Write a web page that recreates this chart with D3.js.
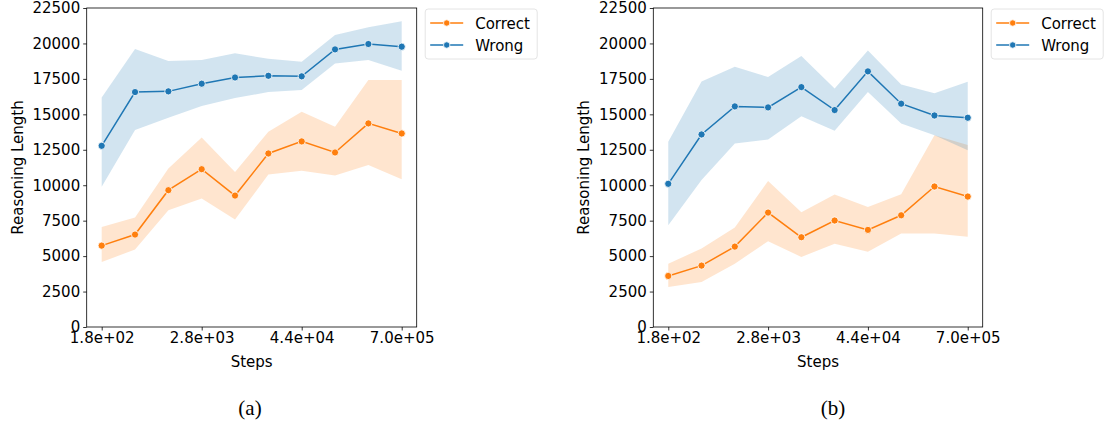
<!DOCTYPE html>
<html>
<head>
<meta charset="utf-8">
<script src="https://cdn.jsdelivr.net/npm/d3@7"></script>
<style>
  body { margin: 0; background: #fff; }
  svg { display: block; font-family: "DejaVu Sans", sans-serif; }
</style>
</head>
<body>
<svg id="chart" width="1107" height="425"></svg>
<script>
// x categories (log-spaced training steps) and ticks that are labelled
var steps = ["1.8e+02", "s1", "s2", "2.8e+03", "s4", "s5", "4.4e+04", "s7", "s8", "7.0e+05"];
var tickSteps = ["1.8e+02", "2.8e+03", "4.4e+04", "7.0e+05"];
var yTicks = [0, 2500, 5000, 7500, 10000, 12500, 15000, 17500, 20000, 22500];

// panel (a)
var aCorrect    = [5740, 6520, 9650, 11130, 9270, 12240, 13090, 12310, 14360, 13650];
var aCorrectLo  = [4590, 5460, 8240, 9060, 7580, 10760, 11020, 10690, 11420, 10430];
var aCorrectHi  = [7060, 7720, 11180, 13370, 10940, 13770, 15180, 14120, 17420, 17420];
var aWrong      = [12780, 16570, 16620, 17160, 17600, 17720, 17680, 19580, 19960, 19770];
var aWrongLo    = [9890, 13890, 14760, 15580, 16150, 16570, 16710, 18590, 18830, 18080];
var aWrongHi    = [16190, 19610, 18760, 18830, 19300, 18920, 18710, 20590, 21140, 21560];

// panel (b)
var bCorrect    = [3600, 4330, 5670, 8070, 6330, 7510, 6850, 7880, 9910, 9200];
var bCorrectLo  = [2820, 3180, 4470, 6050, 4940, 5880, 5300, 6590, 6590, 6360];
var bCorrectHi  = [4470, 5530, 7010, 10290, 8100, 9340, 8470, 9370, 13530, 12830];
var bWrong      = [10100, 13580, 15560, 15490, 16920, 15300, 18030, 15750, 14920, 14760];
var bWrongLo    = [7180, 10360, 12940, 13230, 14870, 13840, 16570, 14360, 13530, 12470];
var bWrongHi    = [13060, 17320, 18360, 17630, 19110, 16830, 19510, 17110, 16480, 17300];

var seriesNames = ["Correct", "Wrong"];
var colors = { Correct: "#ff7f0e", Wrong: "#1f77b4" };
var fs = 15;

var svg = d3.select("#chart");

function drawPanel(left, right, data, caption, capX) {
  var top = 8, bottom = 327;
  var g = svg.append("g");

  var x = d3.scalePoint().domain(steps).range([left, right]).padding(0.45);
  var y = d3.scaleLinear().domain([0, 22500]).range([bottom, top]);

  // bands
  data.forEach(function(s) {
    var rows = s.mean.map(function(v, i) { return { k: steps[i], lo: s.lo[i], hi: s.hi[i], v: v }; });
    g.append("path")
      .datum(rows)
      .attr("fill", colors[s.name])
      .attr("fill-opacity", 0.2)
      .attr("d", d3.area().x(function(d) { return x(d.k); }).y0(function(d) { return y(d.lo); }).y1(function(d) { return y(d.hi); }));
  });
  data.forEach(function(s) {
    var rows = s.mean.map(function(v, i) { return { k: steps[i], v: v }; });
    g.append("path")
      .datum(rows)
      .attr("fill", "none")
      .attr("stroke", colors[s.name])
      .attr("stroke-width", 1.5)
      .attr("d", d3.line().x(function(d) { return x(d.k); }).y(function(d) { return y(d.v); }));
    g.selectAll(null).data(rows).enter().append("circle")
      .attr("cx", function(d) { return x(d.k); })
      .attr("cy", function(d) { return y(d.v); })
      .attr("r", 3.6)
      .attr("fill", colors[s.name])
      .attr("stroke", "#fff")
      .attr("stroke-width", 0.8);
  });

  // axes
  var xAxis = d3.axisBottom(x).tickValues(tickSteps).tickSize(3.5).tickPadding(2);
  var yAxis = d3.axisLeft(y).tickValues(yTicks).tickSize(3.5).tickPadding(3).tickFormat(d3.format("d"));
  var gx = g.append("g").attr("transform", "translate(0," + bottom + ")").call(xAxis);
  var gy = g.append("g").attr("transform", "translate(" + left + ",0)").call(yAxis);
  [gx, gy].forEach(function(a) {
    a.select(".domain").remove();
    a.selectAll("text").attr("font-size", fs).attr("fill", "#000").attr("font-family", "DejaVu Sans");
    a.selectAll("line").attr("stroke", "#000").attr("stroke-width", 0.8);
  });

  g.append("rect")
    .attr("x", left).attr("y", top)
    .attr("width", right - left).attr("height", bottom - top)
    .attr("fill", "none").attr("stroke", "#000").attr("stroke-width", 0.8);

  g.append("text")
    .attr("x", (left + right) / 2).attr("y", 367)
    .attr("text-anchor", "middle").attr("font-size", fs)
    .text("Steps");
  g.append("text")
    .attr("transform", "translate(" + (left - 64) + "," + ((top + bottom) / 2) + ") rotate(-90)")
    .attr("text-anchor", "middle").attr("font-size", fs)
    .text("Reasoning Length");

  // legend
  var lx = right + 8.5, ly = 9;
  var lg = g.append("g");
  lg.append("rect")
    .attr("x", lx).attr("y", ly).attr("width", 112).attr("height", 50).attr("rx", 3)
    .attr("fill", "#fff").attr("stroke", "#ddd").attr("stroke-width", 0.8);
  seriesNames.forEach(function(n, i) {
    var cy = ly + 14 + i * 22;
    lg.append("line").attr("x1", lx + 5).attr("x2", lx + 38).attr("y1", cy).attr("y2", cy)
      .attr("stroke", colors[n]).attr("stroke-width", 1.5);
    lg.append("circle").attr("cx", lx + 21.5).attr("cy", cy).attr("r", 3.2)
      .attr("fill", colors[n]).attr("stroke", "#fff").attr("stroke-width", 0.8);
    lg.append("text").attr("x", lx + 50).attr("y", cy + 5.5).attr("font-size", fs).text(n);
  });

  svg.append("text")
    .attr("x", capX).attr("y", 415)
    .attr("text-anchor", "middle")
    .attr("font-family", "Liberation Serif")
    .attr("font-size", 21)
    .text(caption);
}

drawPanel(86.7, 416.7, [
  { name: "Correct", mean: aCorrect, lo: aCorrectLo, hi: aCorrectHi },
  { name: "Wrong", mean: aWrong, lo: aWrongLo, hi: aWrongHi }
], "(a)", 250);

drawPanel(653.3, 982.7, [
  { name: "Correct", mean: bCorrect, lo: bCorrectLo, hi: bCorrectHi },
  { name: "Wrong", mean: bWrong, lo: bWrongLo, hi: bWrongHi }
], "(b)", 833);
</script>
</body>
</html>
